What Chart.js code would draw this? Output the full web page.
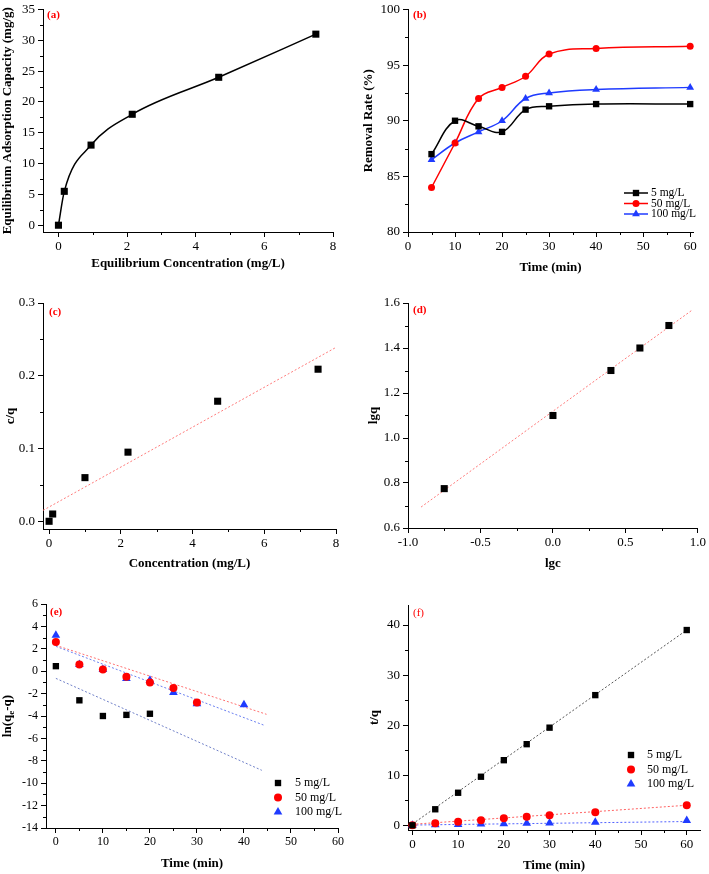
<!DOCTYPE html>
<html>
<head>
<meta charset="utf-8">
<title>Adsorção - figura</title>
<script src="https://cdn.jsdelivr.net/npm/chart.js@4"></script>
<style>
	body { margin: 0; background: #fff; }
	#figura { position: relative; width: 709px; height: 874px; }
	#figura canvas { position: absolute; }
</style>
</head>
<body>
<div id="figura">
	<canvas id="graficoA" width="354" height="290" style="left:0;top:0"></canvas>
	<canvas id="graficoB" width="355" height="290" style="left:354px;top:0"></canvas>
	<canvas id="graficoC" width="354" height="290" style="left:0;top:290px"></canvas>
	<canvas id="graficoD" width="355" height="290" style="left:354px;top:290px"></canvas>
	<canvas id="graficoE" width="354" height="294" style="left:0;top:580px"></canvas>
	<canvas id="graficoF" width="355" height="294" style="left:354px;top:580px"></canvas>
</div>
<script>
// Dados

// (a) isoterma de adsorção
const aConc = [0, 0.17, 0.95, 2.15, 4.67, 7.5];
const aCap = [0, 5.5, 13, 18, 24, 31];
const aTicksX = [0, 2, 4, 6, 8];
const aTicksY = [0, 5, 10, 15, 20, 25, 30, 35];

// (b) taxa de remoção x tempo
const bTempo = [5, 10, 15, 20, 25, 30, 40, 60];
const bRem5 = [87, 90, 89.5, 89, 91, 91.3, 91.5, 91.5];
const bRem50 = [84, 88, 92, 93, 94, 96, 96.5, 96.7];
const bRem100 = [86.5, 88, 89, 90, 92, 92.5, 92.8, 93];
const bTicksX = [0, 10, 20, 30, 40, 50, 60];
const bTicksY = [80, 85, 90, 95, 100];

// (c) Langmuir
const cConc = [0, 0.1, 1, 2.2, 4.7, 7.5];
const cRazao = [0, 0.01, 0.06, 0.095, 0.165, 0.209];
const cAjusteX = [-0.17, 8];
const cAjusteY = [0.015, 0.239];
const cTicksX = [0, 2, 4, 6, 8];
const cTicksY = [0, 0.1, 0.2, 0.3];

// (d) Freundlich
const dLgc = [-0.75, 0, 0.4, 0.6, 0.8];
const dLgq = [0.775, 1.1, 1.3, 1.4, 1.5];
const dAjusteX = [-0.91, 0.955];
const dAjusteY = [0.693, 1.566];
const dTicksX = [-1, -0.5, 0, 0.5, 1];
const dTicksY = [0.6, 0.8, 1.0, 1.2, 1.4, 1.6];

// (e) pseudo-primeira ordem
const eTempo5 = [0, 5, 10, 15, 20];
const eLn5 = [0.45, -2.6, -4.0, -3.9, -3.8];
const eTempo50 = [0, 5, 10, 15, 20, 25, 30];
const eLn50 = [2.6, 0.6, 0.15, -0.5, -1.0, -1.5, -2.8];
const eTempo100 = [0, 5, 10, 15, 20, 25, 30, 40];
const eLn100 = [3.2, 0.6, 0.15, -0.65, -0.8, -1.9, -2.9, -3.0];
const eAjuste5X = [0, 43.8], eAjuste5Y = [-0.64, -8.85];
const eAjuste50X = [0, 44.8], eAjuste50Y = [2.31, -3.85];
const eAjuste100X = [0, 44.5], eAjuste100Y = [2.22, -4.86];
const eTicksX = [0, 10, 20, 30, 40, 50, 60];
const eTicksY = [-14, -12, -10, -8, -6, -4, -2, 0, 2, 4, 6];

// (f) pseudo-segunda ordem
const fTempo = [0, 5, 10, 15, 20, 25, 30, 40, 60];
const fT5 = [0, 3.2, 6.5, 9.7, 13, 16.2, 19.5, 26, 39];
const fT50 = [0, 0.4, 0.7, 1.0, 1.4, 1.7, 2.0, 2.6, 4.0];
const fT100 = [0, 0.1, 0.15, 0.25, 0.3, 0.4, 0.45, 0.6, 0.95];
const fAjuste5X = [0, 60], fAjuste5Y = [0.25, 39];
const fAjuste50X = [0, 60], fAjuste50Y = [0.2, 4.0];
const fAjuste100X = [0, 60], fAjuste100Y = [0.05, 0.75];
const fTicksX = [0, 10, 20, 30, 40, 50, 60];
const fTicksY = [0, 10, 20, 30, 40];

const legendas = ["5 mg/L", "50 mg/L", "100 mg/L"];

const fonte = "'Liberation Serif', 'Times New Roman', serif";
const PRETO = "#000000";
const VERMELHO = "#ff0000";
const AZUL = "#1f3bff";

// junta x e y em pontos {x, y}
function pontos(xs, ys) {
	return xs.map((x, i) => ({ x: x, y: ys[i] }));
}

// marcas menores entre as maiores
function meios(ticks) {
	const res = [];
	for (let i = 0; i < ticks.length - 1; i++) res.push((ticks[i] + ticks[i + 1]) / 2);
	return res;
}

// série de pontos (com ou sem linha)
function serie(label, xs, ys, cor, estilo, raio, linha) {
	return {
		label: label,
		data: pontos(xs, ys),
		showLine: !!linha,
		borderColor: cor,
		borderWidth: 1.5,
		tension: linha === "monotone" ? 0 : 0.4,
		cubicInterpolationMode: linha === "monotone" ? "monotone" : "default",
		pointStyle: estilo,
		pointRadius: raio,
		pointBorderWidth: 0,
		pointBackgroundColor: cor,
		clip: false,
	};
}

// reta de ajuste pontilhada
function ajuste(xs, ys, cor) {
	return {
		data: pontos(xs, ys),
		showLine: true,
		borderColor: cor,
		borderWidth: 1,
		borderDash: [2, 2],
		pointRadius: 0,
		clip: false,
	};
}

// letra do painel, marcas menores, legenda interna e título com índice
const decoracao = {
	id: "decoracao",
	afterDatasetsDraw(chart, args, o) {
		const ctx = chart.ctx;
		const area = chart.chartArea;
		ctx.save();

		ctx.strokeStyle = PRETO;
		ctx.lineWidth = 1;
		["x", "y"].forEach((k) => {
			const s = chart.scales[k];
			(o.menores[k] || []).forEach((v) => {
				const p = Math.round(s.getPixelForValue(v)) + 0.5;
				ctx.beginPath();
				if (k === "x") {
					ctx.moveTo(p, area.bottom);
					ctx.lineTo(p, area.bottom + 3);
				} else {
					ctx.moveTo(area.left, p);
					ctx.lineTo(area.left - 3, p);
				}
				ctx.stroke();
			});
		});

		ctx.fillStyle = VERMELHO;
		ctx.font = (o.letraNegrito ? "bold " : "") + "11px " + fonte;
		ctx.textBaseline = "middle";
		ctx.textAlign = "left";
		ctx.fillText(o.letra, o.letraPos[0], o.letraPos[1]);

		if (o.legenda) {
			const L = o.legenda;
			ctx.font = L.tamanho + "px " + fonte;
			chart.data.datasets
				.filter((d) => d.label)
				.forEach((d, i) => {
					const y = L.y + i * L.passo;
					if (L.linha) {
						ctx.strokeStyle = d.borderColor;
						ctx.lineWidth = 1.5;
						ctx.beginPath();
						ctx.moveTo(L.x - 12, y);
						ctx.lineTo(L.x + 12, y);
						ctx.stroke();
					}
					ctx.fillStyle = d.pointBackgroundColor;
					const r = d.pointRadius;
					ctx.beginPath();
					if (d.pointStyle === "rect") {
						const s = r * Math.SQRT1_2;
						ctx.rect(L.x - s, y - s, 2 * s, 2 * s);
					} else if (d.pointStyle === "triangle") {
						for (let j = 0; j < 3; j++) {
							const ang = (j * 2 * Math.PI) / 3;
							ctx.lineTo(L.x + Math.sin(ang) * r, y - Math.cos(ang) * r);
						}
						ctx.closePath();
					} else {
						ctx.arc(L.x, y, r, 0, 2 * Math.PI);
					}
					ctx.fill();
					ctx.fillStyle = PRETO;
					ctx.fillText(d.label, L.texto, y);
				});
		}

		// título vertical com subscrito (ln(qe-q))
		if (o.tituloSub) {
			const T = o.tituloSub;
			const grande = "bold 13px " + fonte;
			const pequeno = "bold 9px " + fonte;
			ctx.font = grande;
			const w1 = ctx.measureText(T.antes).width;
			const w3 = ctx.measureText(T.depois).width;
			ctx.font = pequeno;
			const w2 = ctx.measureText(T.sub).width;
			const total = w1 + w2 + w3;
			ctx.translate(T.x, (area.top + area.bottom) / 2);
			ctx.rotate(-Math.PI / 2);
			ctx.fillStyle = PRETO;
			ctx.textBaseline = "middle";
			ctx.font = grande;
			ctx.fillText(T.antes, -total / 2, 0);
			ctx.font = pequeno;
			ctx.fillText(T.sub, -total / 2 + w1, 4);
			ctx.font = grande;
			ctx.fillText(T.depois, -total / 2 + w1 + w2, 0);
		}
		ctx.restore();
	},
};

// eixo linear no estilo do Origin (só a borda e as marcas para fora)
function eixo(e, horizontal, tamTick) {
	return {
		type: "linear",
		position: horizontal ? "bottom" : "left",
		min: e.min,
		max: e.max,
		border: { display: true, color: PRETO, width: 1 },
		grid: { drawOnChartArea: false, drawTicks: true, tickLength: 5, tickColor: PRETO, tickWidth: 1 },
		ticks: {
			color: PRETO,
			font: { family: fonte, size: tamTick, lineHeight: 1 },
			padding: 3,
			autoSkip: false,
			maxRotation: 0,
			callback: (v) => Number(v).toFixed(e.casas),
		},
		afterBuildTicks: (s) => {
			s.ticks = e.ticks.map((v) => ({ value: v }));
		},
		afterFit: (s) => {
			if (horizontal) s.height = e.tam;
			else s.width = e.tam;
		},
		title: {
			display: !!e.titulo,
			text: e.titulo,
			color: PRETO,
			font: { family: fonte, size: 13, weight: "bold", lineHeight: 1.2 },
			padding: horizontal ? { top: 0, bottom: e.pad } : { top: e.pad, bottom: 0 },
		},
	};
}

function montarPainel(id, p) {
	const ctx = document.getElementById(id).getContext("2d");
	return new Chart(ctx, {
		type: "scatter",
		data: { datasets: p.datasets },
		options: {
			responsive: false,
			animation: false,
			events: [],
			devicePixelRatio: 1,
			layout: { padding: { top: p.topo, right: p.direita, left: 0, bottom: 0 } },
			scales: {
				x: eixo(p.x, true, p.tamTick),
				y: eixo(p.y, false, p.tamTick),
			},
			plugins: {
				legend: { display: false },
				tooltip: { enabled: false },
				decoracao: {
					letra: p.letra,
					letraPos: p.letraPos,
					letraNegrito: p.letraNegrito !== false,
					menores: { x: meios(p.x.ticks), y: meios(p.y.ticks) },
					legenda: p.legenda,
					tituloSub: p.tituloSub,
				},
			},
		},
		plugins: [decoracao],
	});
}

// (a)
montarPainel("graficoA", {
	letra: "(a)", letraPos: [47, 15], topo: 7, direita: 21, tamTick: 13,
	x: { min: -0.45, max: 8, ticks: aTicksX, casas: 0, tam: 58, pad: 19, titulo: "Equilibrium Concentration (mg/L)" },
	y: { min: -1.1, max: 35, ticks: aTicksY, casas: 0, tam: 43, pad: 0, titulo: "Equilibrium Adsorption Capacity (mg/g)" },
	datasets: [serie(undefined, aConc, aCap, PRETO, "rect", 5, "monotone")],
});

// (b)
montarPainel("graficoB", {
	letra: "(b)", letraPos: [59, 15], topo: 7, direita: 16, tamTick: 13,
	x: { min: 0, max: 60.6, ticks: bTicksX, casas: 0, tam: 58, pad: 15, titulo: "Time (min)" },
	y: { min: 80, max: 100, ticks: bTicksY, casas: 0, tam: 54, pad: 7, titulo: "Removal Rate (%)" },
	legenda: { x: 282, y: 193, passo: 10.5, texto: 297, tamanho: 11.5, linha: true },
	datasets: [
		serie(legendas[0], bTempo, bRem5, PRETO, "rect", 4.5, "curva"),
		serie(legendas[1], bTempo, bRem50, VERMELHO, "circle", 3.5, "curva"),
		serie(legendas[2], bTempo, bRem100, AZUL, "triangle", 4.5, "curva"),
	],
});

// (c)
montarPainel("graficoC", {
	letra: "(c)", letraPos: [49, 22], topo: 13, direita: 18, tamTick: 13,
	x: { min: -0.17, max: 8, ticks: cTicksX, casas: 0, tam: 51, pad: 9, titulo: "Concentration (mg/L)" },
	y: { min: -0.0106, max: 0.3, ticks: cTicksY, casas: 1, tam: 43, pad: 3, titulo: "c/q" },
	datasets: [
		serie(undefined, cConc, cRazao, PRETO, "rect", 5),
		ajuste(cAjusteX, cAjusteY, "#ff7b7b"),
	],
});

// (d)
montarPainel("graficoD", {
	letra: "(d)", letraPos: [59, 20], topo: 13, direita: 9, tamTick: 13,
	x: { min: -1, max: 1, ticks: dTicksX, casas: 1, tam: 52, pad: 9, titulo: "lgc" },
	y: { min: 0.6, max: 1.6, ticks: dTicksY, casas: 1, tam: 54, pad: 12, titulo: "lgq" },
	datasets: [
		serie(undefined, dLgc, dLgq, PRETO, "rect", 5),
		ajuste(dAjusteX, dAjusteY, "#ff7b7b"),
	],
});

// (e)
montarPainel("graficoE", {
	letra: "(e)", letraPos: [50, 32], topo: 24, direita: 16, tamTick: 12,
	x: { min: -2.1, max: 60, ticks: eTicksX, casas: 0, tam: 46, pad: 3, titulo: "Time (min)" },
	y: { min: -14, max: 6, ticks: eTicksY, casas: 0, tam: 46, pad: 0, titulo: "" },
	tituloSub: { x: 8, antes: "ln(q", sub: "e", depois: "-q)" },
	legenda: { x: 278, y: 203, passo: 14.5, texto: 295, tamanho: 12, linha: false },
	datasets: [
		serie(legendas[0], eTempo5, eLn5, PRETO, "rect", 4.5),
		serie(legendas[1], eTempo50, eLn50, VERMELHO, "circle", 4),
		serie(legendas[2], eTempo100, eLn100, AZUL, "triangle", 5),
		ajuste(eAjuste5X, eAjuste5Y, "#7080c8"),
		ajuste(eAjuste50X, eAjuste50Y, "#ff7070"),
		ajuste(eAjuste100X, eAjuste100Y, "#6a7ff0"),
	],
});

// (f)
montarPainel("graficoF", {
	letra: "(f)", letraPos: [59, 33], letraNegrito: false, topo: 25, direita: 9, tamTick: 13,
	x: { min: -0.96, max: 62.9, ticks: fTicksX, casas: 0, tam: 44, pad: 1, titulo: "Time (min)" },
	y: { min: -0.94, max: 44, ticks: fTicksY, casas: 0, tam: 54, pad: 13, titulo: "t/q" },
	legenda: { x: 277, y: 175, passo: 14.5, texto: 293, tamanho: 12, linha: false },
	datasets: [
		serie(legendas[0], fTempo, fT5, PRETO, "rect", 4.5),
		serie(legendas[1], fTempo, fT50, VERMELHO, "circle", 4),
		serie(legendas[2], fTempo, fT100, AZUL, "triangle", 5),
		ajuste(fAjuste5X, fAjuste5Y, "#555555"),
		ajuste(fAjuste50X, fAjuste50Y, "#ff6060"),
		ajuste(fAjuste100X, fAjuste100Y, "#5060ff"),
	],
});
</script>
</body>
</html>
